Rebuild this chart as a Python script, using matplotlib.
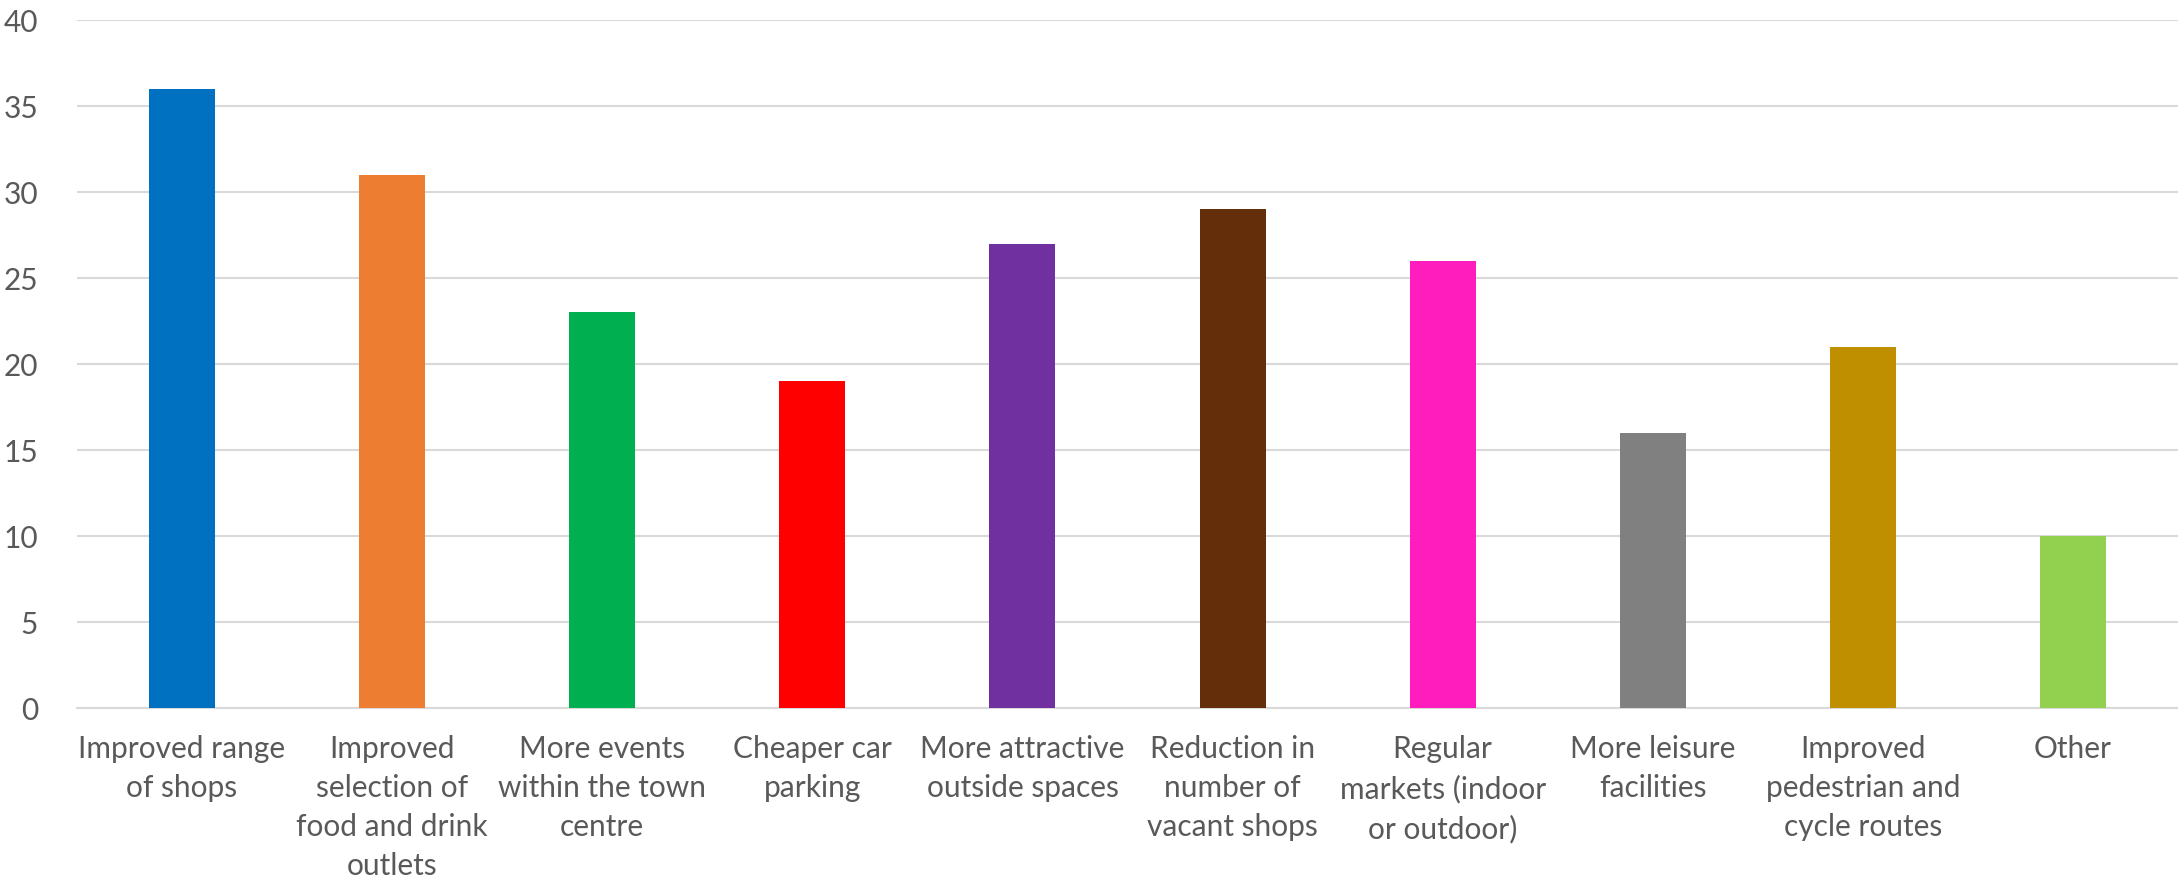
import matplotlib
matplotlib.use("Agg")
import matplotlib.pyplot as plt

categories = [
    "Improved range\nof shops",
    "Improved\nselection of\nfood and drink\noutlets",
    "More events\nwithin the town\ncentre",
    "Cheaper car\nparking",
    "More attractive\noutside spaces",
    "Reduction in\nnumber of\nvacant shops",
    "Regular\nmarkets (indoor\nor outdoor)",
    "More leisure\nfacilities",
    "Improved\npedestrian and\ncycle routes",
    "Other",
]
values = [36, 31, 23, 19, 27, 29, 26, 16, 21, 10]
colors = ["#0070C0", "#ED7D31", "#00B050", "#FF0000", "#7030A0",
          "#652E0B", "#FF1DBE", "#808080", "#BF8F00", "#92D050"]
yticks = [0, 5, 10, 15, 20, 25, 30, 35, 40]

plt.rcParams['font.family'] = ['Lato', 'DejaVu Sans']
fig = plt.figure(figsize=(21.78, 8.79), dpi=100)
ax = fig.add_axes([77/2178, 1 - 709/879, (2178 - 77)/2178, (709 - 21)/879])

x = list(range(len(categories)))
ax.bar(x, values, width=0.314, color=colors, zorder=3)
ax.set_xlim(-0.5, len(categories) - 0.5)
ax.set_ylim(0, 40)
ax.set_yticks(yticks)
ax.set_yticklabels([str(t) for t in yticks])
ax.set_xticks(x)
ax.set_xticklabels(categories, linespacing=1.47)
ax.tick_params(axis='y', length=0, pad=28, labelsize=21.5, labelcolor='#595959')
ax.tick_params(axis='x', length=0, pad=19, labelsize=21.5, labelcolor='#595959')
ax.grid(axis='y', color='#D9D9D9', linewidth=1.5, zorder=0)
for s in ['top', 'right', 'left']:
    ax.spines[s].set_visible(False)
ax.spines['bottom'].set_color('#D9D9D9')
ax.spines['bottom'].set_linewidth(1.5)

fig.savefig("out.png", dpi=100)
